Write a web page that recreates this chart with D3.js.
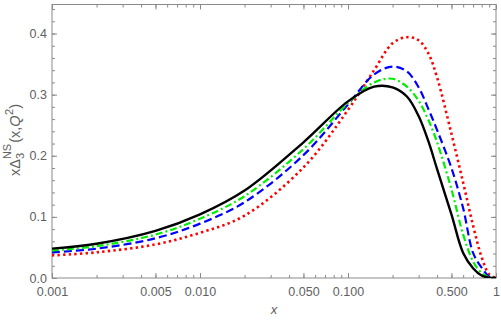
<!DOCTYPE html>
<html><head><meta charset="utf-8">
<script src="https://cdn.jsdelivr.net/npm/d3@7"></script>
<style>html,body{margin:0;padding:0;background:#fff;}svg{display:block;}</style>
</head><body>
<script>
const xValues = [0.001,0.002,0.005,0.01,0.02,0.05,0.1,0.15,0.2,0.25,0.3,0.35,0.4,0.5,0.6,0.7,0.8,0.9,1.0];
const blackSeries = [0.048,0.056,0.077,0.104,0.143,0.222,0.289,0.313,0.312,0.297,0.265,0.223,0.178,0.104,0.041,0.016,0.004,0.0005,0];
const greenSeries = [0.045,0.052,0.071,0.097,0.134,0.211,0.286,0.320,0.326,0.313,0.290,0.258,0.222,0.145,0.071,0.027,0.008,0.001,0];
const blueSeries  = [0.042,0.048,0.065,0.089,0.124,0.201,0.284,0.333,0.346,0.338,0.312,0.276,0.242,0.180,0.114,0.041,0.017,0.002,0];
const redSeries   = [0.037,0.042,0.055,0.074,0.102,0.181,0.275,0.340,0.384,0.394,0.389,0.367,0.328,0.236,0.156,0.086,0.034,0.006,0];
const xTickLabels = ["0.001","0.005","0.010","0.050","0.100","0.500","1"];
const xTickValues = [0.001,0.005,0.01,0.05,0.1,0.5,1];
const yTickValues = [0,0.1,0.2,0.3,0.4];
const yTickLabels = ["0.0","0.1","0.2","0.3","0.4"];

const W = 501, H = 320;
const L = 52, R = 496, T = 4.5, B = 278;
const svg = d3.select("body").append("svg").attr("width", W).attr("height", H);
const x = d3.scaleLog().domain([0.001, 1]).range([L, R]);
const y = d3.scaleLinear().domain([0, 0.4475]).range([B, T]);

const axisColor = "#8a8a8a", textColor = "#606060";
const font = "'Liberation Sans', Arial, sans-serif";

svg.append("defs").append("clipPath").attr("id","clip")
  .append("rect").attr("x", L).attr("y", T).attr("width", R-L).attr("height", B-T);

const minorX = [];
[0.001,0.01,0.1].forEach(d => { for (let k=2;k<10;k++) minorX.push(d*k); });
const minorY = d3.range(0, 0.441, 0.02);

function drawAxis(gen, transform, majors, minors, labels) {
  const g2 = svg.append("g").attr("transform", transform);
  g2.call(gen.tickValues(minors).tickSize(-3).tickFormat(""));
  g2.select(".domain").remove();
  g2.selectAll(".tick line").attr("stroke", axisColor);
  const g = svg.append("g").attr("transform", transform);
  g.call(gen.tickValues(majors).tickSize(-5).tickFormat((d,i)=>labels ? labels[i] : ""));
  g.select(".domain").remove();
  g.selectAll(".tick line").attr("stroke", axisColor);
  g.selectAll(".tick text").attr("fill", textColor).style("font-family", font).style("font-size","12.5px");
  return g;
}
const gb = drawAxis(d3.axisBottom(x), `translate(0,${B})`, xTickValues, minorX, xTickLabels);
gb.selectAll(".tick text").attr("dy", null).attr("y", 18);
drawAxis(d3.axisTop(x), `translate(0,${T})`, xTickValues, minorX, null);
const gl = drawAxis(d3.axisLeft(y), `translate(${L},0)`, yTickValues, minorY, yTickLabels);
gl.selectAll(".tick text").attr("x", -5);
drawAxis(d3.axisRight(y), `translate(${R},0)`, yTickValues, minorY, null);

svg.append("rect").attr("x", L).attr("y", T).attr("width", R-L).attr("height", B-T)
  .attr("fill","none").attr("stroke", axisColor).attr("stroke-width", 1);

const line = d3.line().x((d,i)=>x(xValues[i])).y(d=>y(d)).curve(d3.curveCatmullRom.alpha(0.5));
const plot = svg.append("g").attr("clip-path","url(#clip)");
const series = [
  {v: redSeries, c: "#ff0000", dash: "2.4,3.2", w: 2.6},
  {v: blueSeries, c: "#0000ff", dash: "8,4", w: 2.2},
  {v: greenSeries, c: "#00ee00", dash: "7,3,2,3", w: 2.2},
  {v: blackSeries, c: "#000000", dash: null, w: 2.4}
];
series.forEach(s => {
  plot.append("path").attr("d", line(s.v)).attr("fill","none")
    .attr("stroke", s.c).attr("stroke-width", s.w)
    .attr("stroke-dasharray", s.dash);
});

svg.append("text").attr("x", (L+R)/2).attr("y", 314).attr("text-anchor","middle")
  .attr("fill", textColor).style("font-family", font).style("font-size","13px").style("font-style","italic").text("x");

const yl = svg.append("g").attr("transform", "translate(20,140) rotate(-90)");
const fs = 14.5, fsSmall = 11;
function addText(str, xx, yy, size, italic) {
  const t = yl.append("text").attr("x", xx).attr("y", yy).attr("fill", textColor)
    .style("font-family", font).style("font-size", size+"px").style("font-style", italic?"italic":"normal").text(str);
  return t.node().getComputedTextLength();
}
let cx = 0;
cx += addText("xΔ", cx, 0, fs, false);
const w3 = addText("3", cx, 4, fsSmall, false);
const wNS = addText("NS", cx, -9, fsSmall, false);
cx += Math.max(w3, wNS) + 1;
cx += addText("(x, ", cx, 0, fs, false);
cx += addText("Q", cx, 0, fs, true);
cx += addText("2", cx + 0.5, -7, fsSmall, false) + 0.5;
cx += addText(")", cx, 0, fs, false);
yl.selectAll("text").attr("transform", `translate(${-cx/2},0)`);
</script>
</body></html>
